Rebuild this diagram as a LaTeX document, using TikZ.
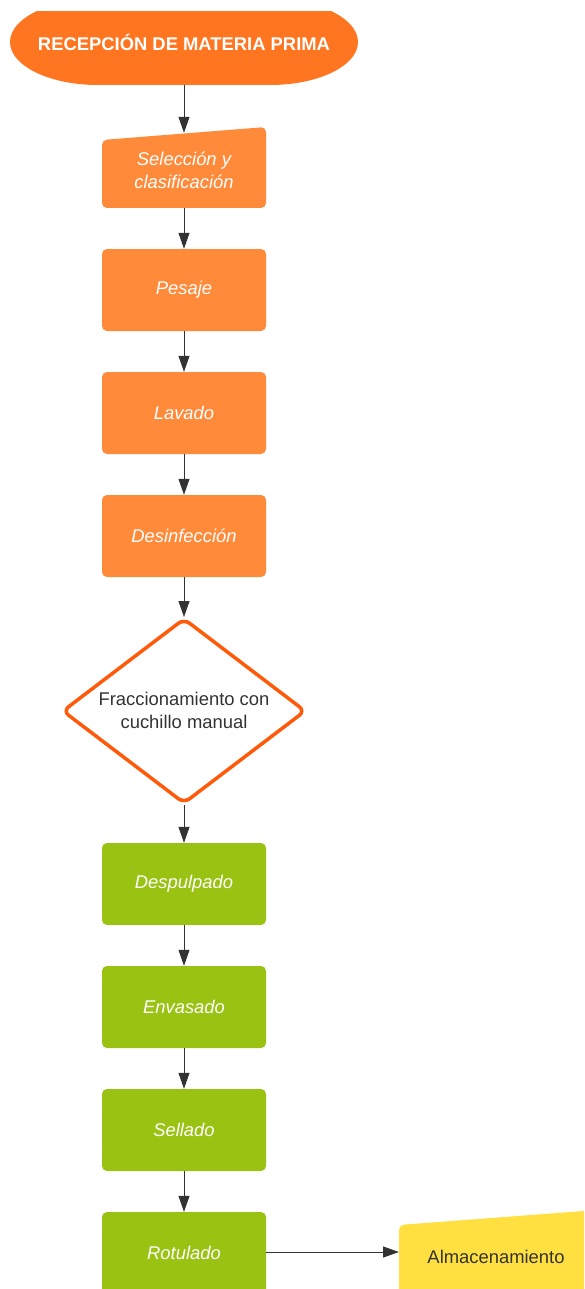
\documentclass[tikz,border=0pt]{standalone}
\usepackage{fontspec}
\setmainfont{Liberation Sans}
\usetikzlibrary{arrows.meta}
\definecolor{termor}{HTML}{FF7520}
\definecolor{boxor}{HTML}{FF8A3A}
\definecolor{boxgr}{HTML}{99C213}
\definecolor{boxye}{HTML}{FFE040}
\definecolor{diaor}{HTML}{FF5A0A}
\definecolor{ink}{HTML}{333333}
\tikzset{
  procbox/.style={rectangle, rounded corners=5pt, minimum width=164pt, minimum height=82pt,
    text=white, font=\fontsize{18.4pt}{23pt}\selectfont\itshape, align=center, inner sep=0pt},
  orbox/.style={procbox, fill=boxor},
  grbox/.style={procbox, fill=boxgr},
  lbl/.style={inner sep=0pt, align=center, font=\fontsize{18.4pt}{23pt}\selectfont},
  conn/.style={draw=ink, line width=1pt, -{Triangle[length=16pt,width=11pt]}}
}
\begin{document}
\begin{tikzpicture}[x=1pt,y=-1pt]
\useasboundingbox (0,0) rectangle (584,1289);
\clip (0,0) rectangle (584,1289);
\fill[white] (0,0) rectangle (584,1289);
% terminator (clipped at top)
\begin{scope}
  \clip (0,12) rectangle (584,100);
  \fill[termor] (98,85) -- (270,85) arc[start angle=90, end angle=-90, x radius=88, y radius=43]
     -- (98,-1) arc[start angle=-90, end angle=-270, x radius=88, y radius=43] -- cycle;
\end{scope}
\node[lbl, text=white, font=\fontsize{18.4pt}{23pt}\selectfont\bfseries] (rec) at (184,42) {RECEPCIÓN DE MATERIA PRIMA};
\coordinate (recb) at (184,85);
% manual input
\fill[boxor, rounded corners=5pt] (102,140) -- (266,127) -- (266,208) -- (102,208) -- cycle;
\node[procbox, minimum height=75pt] (sel) at (184,170.5) {Selección y\\clasificación};
% process boxes
\node[orbox] (pes) at (184,290) {Pesaje};
\node[orbox] (lav) at (184,413) {Lavado};
\node[orbox] (des) at (184,536) {Desinfección};
% decision
\draw[diaor, line width=3.5pt, rounded corners=7pt, fill=white] (184,619) -- (305,711) -- (184,803) -- (63,711) -- cycle;
\node[lbl, text=ink] (frac) at (184,710) {Fraccionamiento con\\cuchillo manual};
\coordinate (fract) at (184,617);
\coordinate (fracb) at (184,805);
\node[grbox] (desp) at (184,884) {Despulpado};
\node[grbox] (env) at (184,1007) {Envasado};
\node[grbox] (sell) at (184,1130) {Sellado};
\node[grbox] (rot) at (184,1253) {Rotulado};
% storage (manual input, clipped)
\fill[boxye, rounded corners=5pt] (399,1225) -- (610,1209) -- (610,1310) -- (399,1310) -- cycle;
\node[lbl, text=ink] (alm) at (496,1257) {Almacenamiento};
\coordinate (almw) at (399,1252);
% connectors
\draw[conn] (recb) -- (sel.north);
\draw[conn] (sel.south) -- (pes.north);
\draw[conn] (pes.south) -- (lav.north);
\draw[conn] (lav.south) -- (des.north);
\draw[conn] (des.south) -- (fract);
\draw[conn] (fracb) -- (desp.north);
\draw[conn] (desp.south) -- (env.north);
\draw[conn] (env.south) -- (sell.north);
\draw[conn] (sell.south) -- (rot.north);
\draw[conn] (rot.east |- almw) -- (almw);
\end{tikzpicture}
\end{document}
